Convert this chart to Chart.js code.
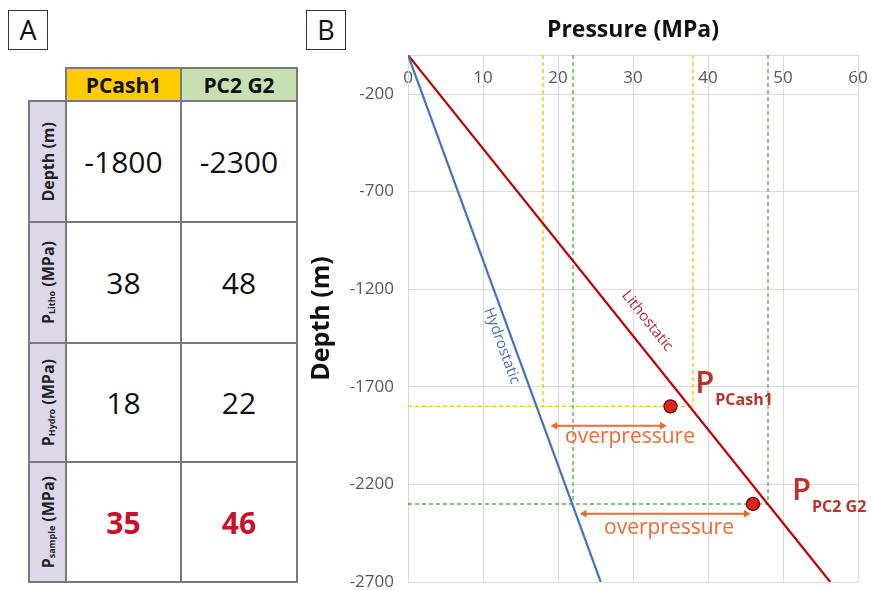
<!DOCTYPE html>
<html>
<head>
<meta charset="utf-8">
<script src="https://cdn.jsdelivr.net/npm/chart.js@4.4.1/dist/chart.umd.min.js"></script>
<style>
  html, body { margin: 0; padding: 0; background: #fff; }
  body { width: 872px; height: 590px; position: relative; overflow: hidden; font-family: "Open Sans", sans-serif; }
  .panel { position: absolute; width: 38px; height: 38px; border: 1px solid #333; font-size: 27px; line-height: 38px; text-align: center; color: #111; }
  #tableA { position: absolute; left: 28px; top: 67px; border-collapse: collapse; table-layout: fixed; }
  #tableA td { border: 2px solid #7a7a7a; padding: 0; text-align: center; vertical-align: middle; }
  #tableA td.corner { border-top: none; border-left: none; }
  #tableA td.head { font-weight: bold; font-size: 21px; color: #111; }
  #tableA td.side { background: #dcd8ea; }
  #tableA td.val { font-size: 30px; color: #111; }
  #tableA td.val.red { color: #c8102e; font-weight: bold; }
  .rot { writing-mode: vertical-rl; transform: rotate(180deg); font-weight: bold; font-size: 16px; color: #222; margin: 0 auto; white-space: nowrap; }
  .rot sub { font-size: 9px; font-weight: bold; }
  #chartWrap { position: absolute; left: 300px; top: 0; width: 572px; height: 590px; }
</style>
</head>
<body>
<div class="panel" style="left:8px;top:10px;">A</div>
<div class="panel" style="left:306px;top:10px;">B</div>
<table id="tableA"></table>
<div id="chartWrap"><canvas id="c" width="572" height="590"></canvas></div>
<script>
// ---------- data ----------
const samples   = ['PCash1', 'PC2 G2'];
const depthM    = [-1800, -2300];
const pLitho    = [38, 48];
const pHydro    = [18, 22];
const pSample   = [35, 46];
const rowLabels = ['Depth (m)', 'P<sub>Litho</sub> (MPa)', 'P<sub>Hydro</sub> (MPa)', 'P<sub>sample</sub> (MPa)'];

const xTicks = [0, 10, 20, 30, 40, 50, 60];
const yTicks = [-200, -700, -1200, -1700, -2200, -2700];

const hydroX = [0, 25.7];
const hydroY = [0, -2700];
const lithoX = [0, 56.3];
const lithoY = [0, -2700];

const arrowY    = [-1900, -2350];
const arrowFrom = [19.6, 23.5];
const arrowTo   = [33.9, 45.1];

// ---------- table A ----------
(function buildTable() {
  const t = document.getElementById('tableA');
  const headBg = ['#ffcc00', '#c6e0b4'];
  const colW = [37, 115, 116];
  const rowH = [33, 121, 121, 119, 120];
  let html = '<colgroup>' + colW.map(w => `<col style="width:${w}px">`).join('') + '</colgroup>';
  html += `<tr style="height:${rowH[0]}px"><td class="corner"></td>` +
    samples.map((s, i) => `<td class="head" style="background:${headBg[i]}">${s}</td>`).join('') + '</tr>';
  const rows = [depthM, pLitho, pHydro, pSample];
  rows.forEach((vals, r) => {
    html += `<tr style="height:${rowH[r + 1]}px"><td class="side"><div class="rot">${rowLabels[r]}</div></td>` +
      vals.map(v => `<td class="val${r === 3 ? ' red' : ''}">${v}</td>`).join('') + '</tr>';
  });
  t.innerHTML = html;
})();

// ---------- chart B ----------
const FAM = '"Open Sans", sans-serif';
Chart.defaults.font.family = FAM;

const pts = (xs, ys) => xs.map((x, i) => ({ x, y: ys[i] }));
const guideColors = ['#ffc000', '#5fae46'];

const datasets = [];
datasets.push({
  label: 'Samples', data: pts(pSample, depthM), showLine: false,
  pointRadius: 6.5, pointBackgroundColor: '#e3211b', pointBorderColor: '#5a0d0a', pointBorderWidth: 1.3, order: 0
});
arrowY.forEach((y, i) => {
  datasets.push({
    label: 'arrow' + i, data: [{ x: arrowFrom[i], y }, { x: arrowTo[i], y }], showLine: true,
    borderColor: '#ee6a2f', borderWidth: 2, pointStyle: 'triangle', pointRadius: 4.5,
    pointRotation: [270, 90], pointBackgroundColor: '#ee6a2f', pointBorderColor: '#ee6a2f', pointBorderWidth: 0, order: 1
  });
});
datasets.push({ label: 'Hydrostatic', data: pts(hydroX, hydroY), showLine: true, borderColor: '#4472c4', borderWidth: 2.2, pointRadius: 0, order: 2 });
datasets.push({ label: 'Lithostatic', data: pts(lithoX, lithoY), showLine: true, borderColor: '#c00000', borderWidth: 2.2, pointRadius: 0, order: 2 });
samples.forEach((s, i) => {
  const common = { showLine: true, borderColor: guideColors[i], borderWidth: 1.4, borderDash: [4, 3], pointRadius: 0, order: 3 };
  datasets.push(Object.assign({ label: s + ' hydro', data: [{ x: pHydro[i], y: 0 }, { x: pHydro[i], y: depthM[i] }] }, common));
  datasets.push(Object.assign({ label: s + ' litho', data: [{ x: pLitho[i], y: 0 }, { x: pLitho[i], y: depthM[i] }] }, common));
  datasets.push(Object.assign({ label: s + ' depth', data: [{ x: 0, y: depthM[i] }, { x: pLitho[i], y: depthM[i] }] }, common));
});

// annotations (positions in data units)
const lineNotes = [
  { text: 'Hydrostatic', x: 12.5, y: -1490, color: '#4a6fb5', lx: hydroX, ly: hydroY },
  { text: 'Lithostatic', x: 31.9, y: -1362, color: '#b5283a', lx: lithoX, ly: lithoY }
];
const overNotes = [
  { text: 'overpressure', x: 29.6, y: -1990 },
  { text: 'overpressure', x: 34.8, y: -2454 }
];
const pNotes = [
  { sub: samples[0], x: 38.3, y: -1730 },
  { sub: samples[1], x: 51.2, y: -2281 }
];

const notesPlugin = {
  id: 'notes',
  afterDatasetsDraw(chart) {
    const { ctx, scales: { x, y } } = chart;
    ctx.save();
    lineNotes.forEach(n => {
      const ang = Math.atan2(y.getPixelForValue(n.ly[1]) - y.getPixelForValue(n.ly[0]),
                             x.getPixelForValue(n.lx[1]) - x.getPixelForValue(n.lx[0]));
      ctx.save();
      ctx.translate(x.getPixelForValue(n.x), y.getPixelForValue(n.y));
      ctx.rotate(ang);
      ctx.font = '15px ' + FAM;
      ctx.fillStyle = n.color;
      ctx.textAlign = 'center';
      ctx.textBaseline = 'middle';
      ctx.fillText(n.text, 0, 0);
      ctx.restore();
    });
    ctx.font = '21px ' + FAM;
    ctx.fillStyle = '#ee6a2f';
    ctx.textAlign = 'center';
    ctx.textBaseline = 'alphabetic';
    overNotes.forEach(n => ctx.fillText(n.text, x.getPixelForValue(n.x), y.getPixelForValue(n.y)));
    pNotes.forEach(n => {
      const px = x.getPixelForValue(n.x), py = y.getPixelForValue(n.y);
      ctx.textAlign = 'left';
      ctx.fillStyle = '#c0302a';
      ctx.font = '600 31px ' + FAM;
      ctx.fillText('P', px, py);
      const w = ctx.measureText('P').width;
      ctx.font = 'bold 16px ' + FAM;
      ctx.fillText(n.sub, px + w + 1, py + 12);
    });
    ctx.restore();
  }
};

new Chart(document.getElementById('c'), {
  type: 'scatter',
  data: { datasets },
  options: {
    responsive: false,
    animation: false,
    layout: { padding: { left: 0, right: 14, top: 0, bottom: 8 } },
    plugins: { legend: { display: false }, tooltip: { enabled: false } },
    scales: {
      x: {
        type: 'linear', position: 'top', min: 0, max: 60,
        afterBuildTicks: s => { s.ticks = xTicks.map(v => ({ value: v })); },
        ticks: { mirror: true, padding: 13, color: '#595959', font: { size: 17 }, callback: v => String(v) },
        grid: { color: '#d9d9d9', drawTicks: false, lineWidth: 1 },
        border: { color: '#d9d9d9' },
        title: { display: true, text: 'Pressure (MPa)', color: '#111', font: { size: 23, weight: 'bold' }, padding: { top: 17, bottom: 0 } },
        afterFit: s => { s.height = 55; s.paddingLeft = 0; s.paddingRight = 0; }
      },
      y: {
        type: 'linear', min: -2700, max: 0,
        afterBuildTicks: s => { s.ticks = yTicks.map(v => ({ value: v })); },
        ticks: { padding: 14, color: '#595959', font: { size: 17 }, callback: v => String(v) },
        grid: { color: '#d9d9d9', drawTicks: false, lineWidth: 1 },
        border: { color: '#d9d9d9' },
        title: { display: true, text: 'Depth (m)', color: '#111', font: { size: 25, weight: 'bold' }, padding: { top: 7, bottom: 0 } },
        afterFit: s => { s.width = 108; s.paddingTop = 0; s.paddingBottom = 0; }
      }
    }
  },
  plugins: [notesPlugin]
});
</script>
</body>
</html>
